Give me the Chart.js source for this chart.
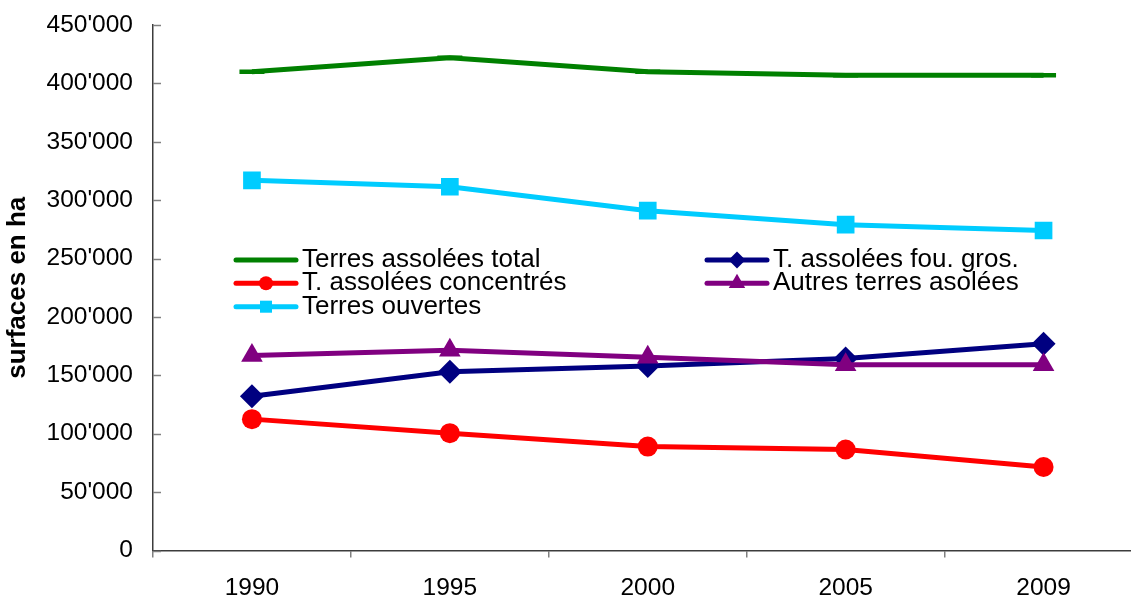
<!DOCTYPE html>
<html>
<head>
<meta charset="utf-8">
<title>Surfaces des terres assolées</title>
<script src="https://cdn.jsdelivr.net/npm/chart.js@4/dist/chart.umd.min.js"></script>
<style>
  html, body { margin: 0; padding: 0; background: #ffffff; width: 1131px; height: 599px; overflow: hidden; }
  #wrap { position: relative; width: 1160px; height: 599px; }
</style>
</head>
<body>
<div id="wrap"><canvas id="chart"></canvas></div>
<script>
// Years on the horizontal axis
const years = ['1990', '1995', '2000', '2005', '2009'];

// Surfaces in hectares
const terresAssoleesTotal = [410000, 422000, 410000, 407000, 407000];
const assoleesFouGros     = [132000, 153000, 158000, 164500, 177000];
const assoleesConcentres  = [112500, 100500, 89000, 86500, 71500];
const autresTerresAsolees = [167000, 171500, 165500, 159000, 159000];
const terresOuvertes      = [317000, 311500, 291000, 279000, 274000];

// Vertical axis range
const yMin = 0;
const yMax = 450000;
const yStep = 50000;

const FONT = '"Liberation Sans", Arial, Helvetica, sans-serif';

// Thousands separated by an apostrophe: 450'000
function formatHa(v) {
  return String(Math.round(v)).replace(/\B(?=(\d{3})+(?!\d))/g, "'");
}

const datasets = [
  {
    label: 'Terres assolées total', data: terresAssoleesTotal,
    borderColor: '#008000', backgroundColor: '#008000',
    pointStyle: 'line', pointRadius: 12.5, pointBorderWidth: 4.5,
    pointBorderColor: '#008000', legendMarker: null, order: 5
  },
  {
    label: 'T. assolées fou. gros.', data: assoleesFouGros,
    borderColor: '#000080', backgroundColor: '#000080',
    pointStyle: 'rectRot', pointRadius: 12, pointBorderWidth: 0,
    pointBackgroundColor: '#000080', legendMarker: 8.5, order: 4
  },
  {
    label: 'T. assolées concentrés', data: assoleesConcentres,
    borderColor: '#ff0000', backgroundColor: '#ff0000',
    pointStyle: 'circle', pointRadius: 10, pointBorderWidth: 0,
    pointBackgroundColor: '#ff0000', legendMarker: 7, order: 3
  },
  {
    label: 'Autres terres asolées', data: autresTerresAsolees,
    borderColor: '#800080', backgroundColor: '#800080',
    pointStyle: 'triangle', pointRadius: 12.5, pointBorderWidth: 0,
    pointBackgroundColor: '#800080', legendMarker: 9.5, order: 2
  },
  {
    label: 'Terres ouvertes', data: terresOuvertes,
    borderColor: '#00ccff', backgroundColor: '#00ccff',
    pointStyle: 'rect', pointRadius: 12.5, pointBorderWidth: 0,
    pointBackgroundColor: '#00ccff', legendMarker: 8.5, order: 1
  }
];
datasets.forEach(d => { d.borderWidth = 5; d.tension = 0; d.fill = false; d.pointHoverRadius = d.pointRadius; });

// Short tick marks pointing into the plot on the value axis
const innerTicks = {
  id: 'innerTicks',
  beforeDatasetsDraw(chart) {
    const { ctx, chartArea, scales: { y } } = chart;
    ctx.save();
    ctx.strokeStyle = '#808080';
    ctx.lineWidth = 1.5;
    y.ticks.forEach(t => {
      const py = Math.round(y.getPixelForValue(t.value)) + 0.5;
      ctx.beginPath();
      ctx.moveTo(chartArea.left, py);
      ctx.lineTo(chartArea.left + 8, py);
      ctx.stroke();
    });
    ctx.restore();
  }
};

// Two-column legend placed inside the plot
const legendSlots = [
  { col: 0, row: 0 }, // Terres assolées total
  { col: 1, row: 0 }, // T. assolées fou. gros.
  { col: 0, row: 1 }, // T. assolées concentrés
  { col: 1, row: 1 }, // Autres terres asolées
  { col: 0, row: 2 }  // Terres ouvertes
];
const inlineLegend = {
  id: 'inlineLegend',
  afterDatasetsDraw(chart) {
    const { ctx, chartArea } = chart;
    const colX = [83, 554];
    const rowY = [235, 258.3, 281.7];
    const lineLen = 60;
    ctx.save();
    chart.data.datasets.forEach((ds, i) => {
      const slot = legendSlots[i];
      const x0 = chartArea.left + colX[slot.col];
      const y0 = chartArea.top + rowY[slot.row];
      ctx.strokeStyle = ds.borderColor;
      ctx.lineWidth = 5;
      ctx.lineCap = 'round';
      ctx.beginPath();
      ctx.moveTo(x0, y0);
      ctx.lineTo(x0 + lineLen, y0);
      ctx.stroke();
      if (ds.legendMarker) {
        ctx.fillStyle = ds.borderColor;
        Chart.helpers.drawPoint(ctx, {
          pointStyle: ds.pointStyle, radius: ds.legendMarker, rotation: 0, borderWidth: 0
        }, x0 + lineLen / 2, y0);
      }
      ctx.fillStyle = '#000000';
      ctx.font = '26px ' + FONT;
      ctx.textAlign = 'left';
      ctx.textBaseline = 'middle';
      ctx.fillText(ds.label, x0 + lineLen + 6, y0);
    });
    ctx.restore();
  }
};

new Chart(document.getElementById('chart'), {
  type: 'line',
  data: { labels: years, datasets },
  options: {
    responsive: true,
    maintainAspectRatio: false,
    animation: false,
    devicePixelRatio: 1,
    layout: { autoPadding: false, padding: { left: 0, right: 17.5, top: 25, bottom: 0 } },
    plugins: { legend: { display: false }, tooltip: { enabled: false } },
    scales: {
      x: {
        type: 'category',
        offset: true,
        grid: {
          offset: true, drawOnChartArea: false, drawTicks: true,
          tickLength: 7, color: '#808080', lineWidth: 1.5
        },
        border: { color: '#3c3c3c', width: 1.5 },
        ticks: {
          color: '#000000', font: { family: FONT, size: 24.5 },
          padding: 16, maxRotation: 0, autoSkip: false
        },
        afterFit(scale) { scale.height = 48.5; }
      },
      y: {
        min: yMin, max: yMax,
        grid: { drawOnChartArea: false, drawTicks: false },
        border: { color: '#3c3c3c', width: 1.5 },
        ticks: {
          stepSize: yStep, color: '#000000',
          font: { family: FONT, size: 24.5 }, padding: 20,
          callback: v => formatHa(v)
        },
        title: {
          display: true, text: 'surfaces en ha', color: '#000000',
          font: { family: FONT, size: 26, weight: 'bold' },
          padding: { top: 2, bottom: 0 }
        },
        afterFit(scale) {
          scale.width = 153;
          // the label gap should not push the plot down from the top edge
          scale.paddingTop = 0;
          scale.paddingBottom = 0;
        }
      }
    }
  },
  plugins: [innerTicks, inlineLegend]
});
</script>
</body>
</html>
